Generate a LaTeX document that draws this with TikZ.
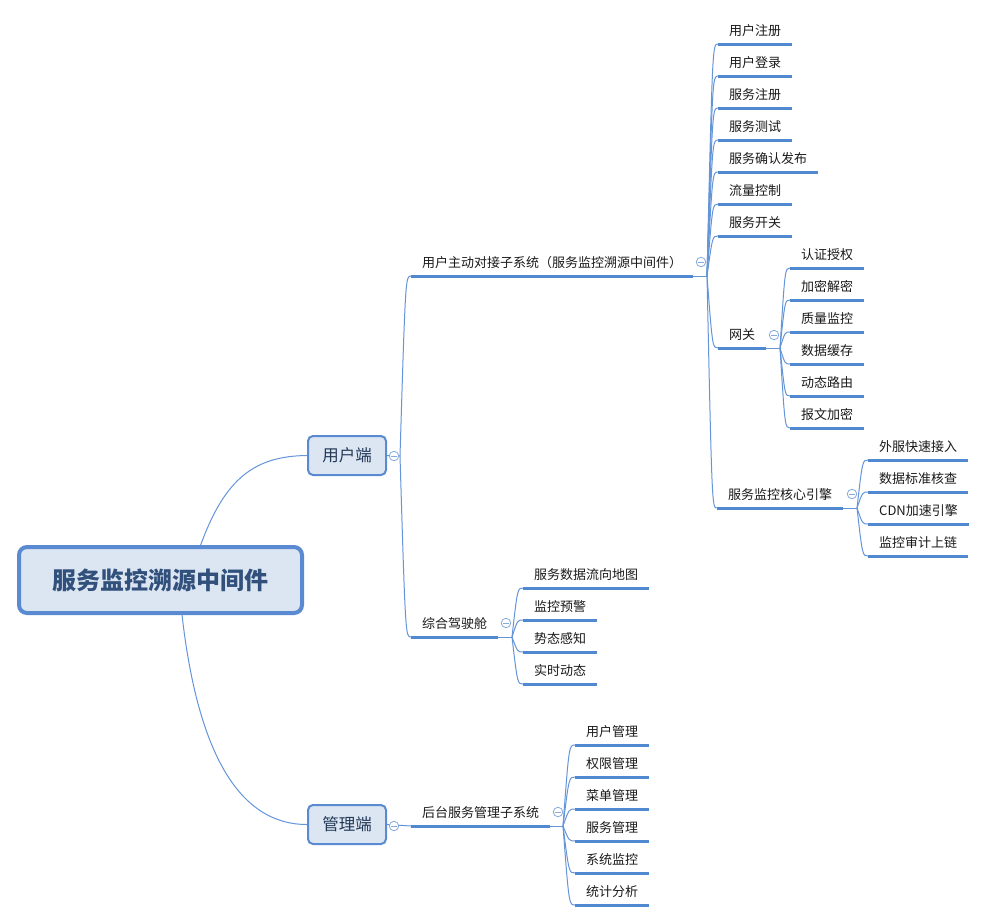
\documentclass[tikz,border=0pt]{standalone}
\usepackage{fontspec}
\newfontfamily\cjk{Noto Sans CJK SC}
\usetikzlibrary{calc}
\definecolor{linec}{HTML}{5089CF}
\definecolor{connc}{HTML}{6495D8}
\definecolor{boxfill}{HTML}{DCE6F2}
\definecolor{boxdraw}{HTML}{5A8AD2}
\definecolor{rootc}{HTML}{31507C}
\definecolor{circc}{HTML}{86AADE}
\definecolor{textc}{HTML}{1A1A1A}
\tikzset{
  leaf/.style={anchor=south west, inner xsep=11pt, inner ysep=0pt, minimum height=26pt,
    font=\cjk\fontsize{13}{15}\selectfont, text=textc},
  uline/.style={draw=linec, line width=3pt},
  conn/.style={draw=connc, line width=1pt},
  rootbox/.style={draw=boxdraw, fill=boxfill, line width=4pt, rounded corners=8pt,
    minimum width=283pt, minimum height=66pt, font=\cjk\bfseries\fontsize{24}{28}\selectfont, text=rootc},
  midbox/.style={draw=boxdraw, fill=boxfill, line width=2pt, rounded corners=5pt,
    minimum width=78pt, minimum height=39pt, font=\cjk\fontsize{16.5}{19}\selectfont, text=rootc!70!black},
  fold/.style={circle, draw=circc, fill=white, line width=0.8pt, minimum size=9.5pt, inner sep=0pt,
    path picture={\draw[circc, line width=0.8pt] ([xshift=-2.6pt]path picture bounding box.center) -- ([xshift=2.6pt]path picture bounding box.center);}}
}
\newcommand\kid[2]{\draw[conn] (#1) .. controls ($(#1 |- #2.south west)!0.5!(#2.south west)$) .. (#2.south west);}
\begin{document}
\begin{tikzpicture}[x=1pt,y=-1pt]
\useasboundingbox[fill=white] (0,0) rectangle (991,922);

% main boxes
\node[rootbox] (root) at (160.5,580) {服务监控溯源中间件};
\node[midbox] (u) at (347,455.5) {用户端};
\node[midbox] (m) at (347,824.5) {管理端};

% trunk coordinates
\coordinate (tu) at (400,456);
\coordinate (ta) at (707,276);
\coordinate (tg) at (780,348);
\coordinate (te) at (857,508);
\coordinate (tb) at (512,637);
\coordinate (th) at (563,826);

% second level
\node[leaf, text width=260pt] (a) at (411,276) {用户主动对接子系统（服务监控溯源中间件）};
\node[leaf] (b) at (411,637) {综合驾驶舱};
\node[leaf] (h) at (411,826) {后台服务管理子系统};

% children of a
\node[leaf] (a1) at (718,44) {用户注册};
\node[leaf] (a2) at (718,76) {用户登录};
\node[leaf] (a3) at (718,108) {服务注册};
\node[leaf] (a4) at (718,140) {服务测试};
\node[leaf] (a5) at (718,172) {服务确认发布};
\node[leaf] (a6) at (718,204) {流量控制};
\node[leaf] (a7) at (718,236) {服务开关};
\node[leaf] (gw) at (718,348) {网关};
\node[leaf] (eng) at (717,508) {服务监控核心引擎};

% children of gateway
\node[leaf] (g1) at (790,268) {认证授权};
\node[leaf] (g2) at (790,300) {加密解密};
\node[leaf] (g3) at (790,332) {质量监控};
\node[leaf] (g4) at (790,364) {数据缓存};
\node[leaf] (g5) at (790,396) {动态路由};
\node[leaf] (g6) at (790,428) {报文加密};

% children of engine
\node[leaf] (e1) at (868,460) {外服快速接入};
\node[leaf] (e2) at (868,492) {数据标准核查};
\node[leaf] (e3) at (868,524) {CDN加速引擎};
\node[leaf] (e4) at (868,556) {监控审计上链};

% children of cockpit
\node[leaf] (b1) at (523,588) {服务数据流向地图};
\node[leaf] (b2) at (523,620) {监控预警};
\node[leaf] (b3) at (523,652) {势态感知};
\node[leaf] (b4) at (523,684) {实时动态};

% children of management
\node[leaf] (h1) at (575,745) {用户管理};
\node[leaf] (h2) at (575,777) {权限管理};
\node[leaf] (h3) at (575,809) {菜单管理};
\node[leaf] (h4) at (575,841) {服务管理};
\node[leaf] (h5) at (575,873) {系统监控};
\node[leaf] (h6) at (575,905) {统计分析};

% underlines
\foreach \n in {a,b,h,a1,a2,a3,a4,a5,a6,a7,gw,eng,g1,g2,g3,g4,g5,g6,e1,e2,e3,e4,b1,b2,b3,b4,h1,h2,h3,h4,h5,h6}
  \draw[uline] (\n.south west) -- (\n.south east);

% root connectors
\draw[conn] ($(root.north west)!0.64!(root.north east)$) .. controls (225,478) and (255,456) .. (u.west);
\draw[conn] ($(root.south west)!0.575!(root.south east)$) .. controls (198,755) and (240,824.5) .. (m.west);

% user side
\draw[conn] (u.east) -- (tu);
\kid{tu}{a}
\kid{tu}{b}
\draw[conn] (a.south east) -- (ta);
\foreach \c in {a1,a2,a3,a4,a5,a6,a7,gw,eng} {\kid{ta}{\c}}
\draw[conn] (gw.south east) -- (tg);
\foreach \c in {g1,g2,g3,g4,g5,g6} {\kid{tg}{\c}}
\draw[conn] (eng.south east) -- (te);
\foreach \c in {e1,e2,e3,e4} {\kid{te}{\c}}
\draw[conn] (b.south east) -- (tb);
\foreach \c in {b1,b2,b3,b4} {\kid{tb}{\c}}

% management side
\draw[conn] (m.east) -- (h.south west);
\draw[conn] (h.south east) -- (th);
\foreach \c in {h1,h2,h3,h4,h5,h6} {\kid{th}{\c}}

% fold buttons
\node[fold] (cu) at (394,456) {};
\node[fold] (cm) at (394,826) {};
\node[fold] (ca) at (701,262) {};
\node[fold] (cg) at (774,335) {};
\node[fold] (ce) at (852,494) {};
\node[fold] (cb) at (506,623) {};
\node[fold] (ch) at (558,812) {};
\end{tikzpicture}
\end{document}
